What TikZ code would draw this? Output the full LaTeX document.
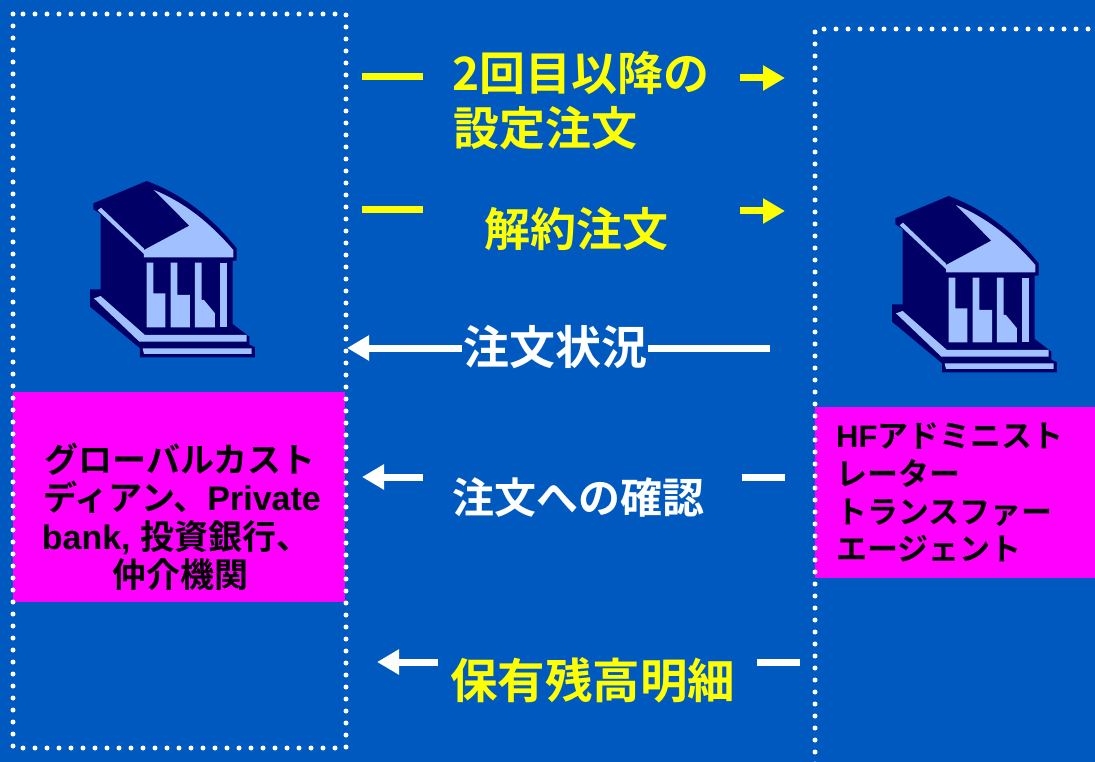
\documentclass[tikz,border=0pt]{standalone}
\usepackage{fontspec}
\usetikzlibrary{arrows.meta}
\newfontfamily\jpb{Noto Sans CJK JP Bold}
\newfontfamily\latb{Liberation Sans Bold}
\definecolor{bg}{RGB}{0,89,191}
\definecolor{navyc}{RGB}{0,0,102}
\definecolor{lightc}{RGB}{160,192,255}
\definecolor{pinkc}{RGB}{255,0,255}
\definecolor{yel}{RGB}{255,255,0}
\tikzset{
  dotbox/.style={draw=white, line width=5pt, line cap=round, dash pattern=on 0pt off 12pt},
  shaft/.style={line width=7pt},
  yseg/.style={shaft, draw=yel},
  wseg/.style={shaft, draw=white},
  yarr/.style={yseg, -{Triangle[length=22pt,width=24pt]}},
  warr/.style={wseg, -{Triangle[length=22pt,width=24pt]}},
  lbl/.style={inner sep=0pt, font=\jpb},
  big/.style={lbl, font=\jpb\fontsize{46pt}{55pt}\selectfont},
  pinktxt/.style={inner sep=0pt, text=black},
  bank/.pic={
    \fill[navyc] (40,100) -- (200,33) .. controls (300,70) and (390,135) .. (470,235)
      -- (470,272) -- (458,272) -- (458,462) -- (508,500) -- (508,524) -- (525,532)
      -- (525,562) -- (180,562) -- (180,535) -- (30,410) -- (30,358) -- (62,358)
      -- (62,132) -- (40,118) -- cycle;
    \fill[lightc] (222,60) .. controls (320,100) and (395,165) .. (460,240)
      -- (460,262) -- (192,262) -- (192,240) -- (328,167) -- cycle;
    \fill[lightc] (53,121) -- (63,113) -- (192,236) -- (192,252) -- cycle;
    \fill[lightc] (200,278) -- (220,278) -- (220,370) -- (256,370) -- (256,472) -- (200,472) -- cycle;
    \fill[lightc] (272,278) -- (292,278) -- (292,375) -- (330,375) -- (330,472) -- (272,472) -- cycle;
    \fill[lightc] (345,278) -- (365,278) -- (365,390) -- (372,390) -- (405,430) -- (405,472) -- (345,472) -- cycle;
    \fill[lightc] (420,278) -- (440,278) -- (440,472) -- (420,472) -- cycle;
    \fill[lightc] (42,385) -- (62,378) -- (195,495) -- (500,495) -- (500,515) -- (178,515) -- cycle;
    \fill[lightc] (188,535) -- (515,535) -- (515,552) -- (192,552) -- cycle;
  }
}
\begin{document}
\begin{tikzpicture}[x=1pt,y=-1pt]
\useasboundingbox (0,0) rectangle (1095,762);
\fill[bg] (0,0) rectangle (1095,762);
% pink boxes
\fill[pinkc] (13,392) rectangle (345,602);
\fill[pinkc] (815,407) rectangle (1095,578);
% dotted frames
\draw[dotbox] (13,14) rectangle (346,748);
\draw[dotbox] (1100,29) -- (815,29) -- (815,770);
% bank icons
\pic[scale=0.3333] (bankL) at (80,170) {bank};
\pic[scale=0.3333] (bankR) at (882,185) {bank};
% pink texts (left)
\node[pinktxt, anchor=base] (L1) at (180,472.5) {\fontsize{34pt}{38pt}\selectfont\jpb グローバルカスト};
\node[pinktxt, anchor=base] (L2) at (182,510.5) {\fontsize{34pt}{38pt}\selectfont{\jpb ディアン、}{\latb Private}};
\node[pinktxt, anchor=base] (L3) at (176,549.5) {\fontsize{34pt}{38pt}\selectfont{\latb bank, }{\jpb 投資銀行、}};
\node[pinktxt, anchor=base] (L4) at (180,587.5) {\fontsize{34pt}{38pt}\selectfont\jpb 仲介機関};
% pink texts (right)
\node[pinktxt, anchor=base west] (R1) at (836,447.8) {\fontsize{31pt}{37pt}\selectfont{\latb HF}{\jpb アドミニスト}};
\node[pinktxt, anchor=base west] (R2) at (836,485.8) {\fontsize{31pt}{37pt}\selectfont\jpb レーター};
\node[pinktxt, anchor=base west] (R3) at (836,523.8) {\fontsize{31pt}{37pt}\selectfont\jpb トランスファー};
\node[pinktxt, anchor=base west] (R4) at (836,560.8) {\fontsize{31pt}{37pt}\selectfont\jpb エージェント};
% connector end points
\coordinate (a1s) at (362,77);  \coordinate (a1e) at (423,77);
\coordinate (a1p) at (740,78);  \coordinate (a1t) at (785,78);
\coordinate (a2s) at (362,210); \coordinate (a2e) at (423,210);
\coordinate (a2p) at (740,211); \coordinate (a2t) at (785,211);
\coordinate (a3s) at (770,348); \coordinate (a3t) at (347,348);
\coordinate (a4p) at (423,477); \coordinate (a4t) at (362,477);
\coordinate (a4s) at (742,477); \coordinate (a4e) at (785,477);
\coordinate (a5p) at (438,662); \coordinate (a5t) at (377,662);
\coordinate (a5s) at (757,662); \coordinate (a5e) at (800,662);
% arrows
\draw[yseg] (a1s) -- (a1e);
\draw[yarr] (a1p) -- (a1t);
\draw[yseg] (a2s) -- (a2e);
\draw[yarr] (a2p) -- (a2t);
\draw[warr] (a3s) -- (a3t);
\draw[warr] (a4p) -- (a4t);
\draw[wseg] (a4s) -- (a4e);
\draw[warr] (a5p) -- (a5t);
\draw[wseg] (a5s) -- (a5e);
% middle labels
\node[big, text=yel, anchor=base west] (t1a) at (452,90.5) {2回目以降の};
\node[big, text=yel, anchor=base west] (t1b) at (453,145.5) {設定注文};
\node[big, text=yel, anchor=base] (t2) at (576.5,246.5) {解約注文};
\node[big, text=white, fill=bg, inner xsep=1pt, anchor=base] (t3) at (555,364.5) {注文状況};
\node[lbl, text=white, anchor=base, font=\jpb\fontsize{42pt}{50pt}\selectfont] (t4) at (578.5,513) {注文への確認};
\node[lbl, text=yel, anchor=base, font=\jpb\fontsize{47.5pt}{56pt}\selectfont] (t5) at (592.5,698) {保有残高明細};
\end{tikzpicture}
\end{document}
